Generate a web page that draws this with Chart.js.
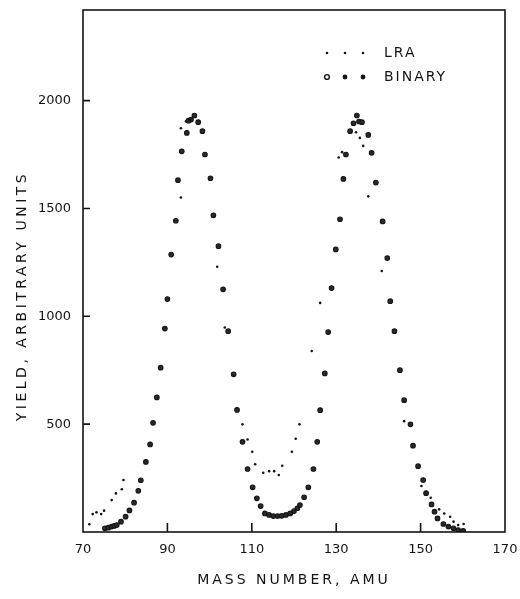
<!DOCTYPE html>
<html>
<head>
    <title>Yield vs mass number</title>
    <script src="https://cdn.jsdelivr.net/npm/chart.js"></script>
    <style>
        html, body { margin: 0; padding: 0; background: #fff; }
    </style>
</head>
<body>
<canvas id="Yield" width="520" height="599"></canvas>
<script>
    // values
    const lra_mass = [71.5, 72.3, 73.2, 74.3, 75.0, 76.8, 77.8, 79.2, 79.6, 93.2, 93.2, 94.4, 95.4,
        101.8, 103.6, 107.8, 109.0, 110.1, 110.8, 112.7, 114.1, 115.3, 116.4, 117.2, 119.5, 120.4,
        121.3, 124.2, 126.2, 130.6, 131.4, 134.7, 135.6, 136.4, 137.6, 140.8, 146.1, 150.2, 152.4,
        154.4, 155.6, 157.0, 157.8, 158.9, 160.2];
    const lra_yield = [36, 83, 91, 83, 99, 148, 179, 198, 241, 1551, 1872, 1904, 1912,
        1230, 948, 499, 429, 372, 314, 275, 282, 282, 264, 307, 372, 432,
        499, 839, 1062, 1736, 1761, 1853, 1827, 1790, 1556, 1210, 514, 213, 159,
        105, 86, 71, 48, 32, 37];

    const binary_mass = [75.2, 76.0, 76.8, 77.4, 78.0, 79.0, 80.1, 81.0, 82.1, 83.1, 83.7, 84.9,
        85.9, 86.6, 87.5, 88.4, 89.4, 90.0, 90.9, 92.0, 92.5, 93.4, 94.6, 95.0, 95.6, 96.4, 97.3,
        98.3, 98.9, 100.2, 100.9, 102.1, 103.2, 104.4, 105.7, 106.5, 107.8, 109.0, 110.2, 111.2,
        112.1, 113.1, 114.1, 115.1, 116.1, 117.1, 118.1, 119.1, 120.0, 120.8, 121.4, 122.4, 123.4,
        124.6, 125.5, 126.2, 127.3, 128.1, 128.9, 129.9, 130.9, 131.7, 132.3, 133.3, 134.1, 134.9,
        135.4, 136.1, 137.6, 138.4, 139.4, 141.0, 142.1, 142.8, 143.8, 145.1, 146.1, 147.6, 148.2,
        149.4, 150.6, 151.3, 152.6, 153.3, 154.0, 155.4, 156.6, 157.8, 158.9, 160.1];
    const binary_yield = [17, 20, 25, 28, 32, 48, 71, 100, 136, 191, 240, 325,
        406, 506, 624, 762, 943, 1080, 1286, 1443, 1631, 1765, 1850, 1907, 1912, 1931, 1900,
        1858, 1750, 1640, 1468, 1325, 1125, 931, 731, 566, 418, 292, 207, 156,
        120, 86, 79, 74, 74, 75, 79, 86, 97, 110, 125, 161, 207,
        292, 418, 565, 735, 927, 1131, 1310, 1450, 1637, 1750, 1858, 1895, 1931,
        1903, 1900, 1841, 1758, 1620, 1440, 1270, 1070, 931, 750, 611, 499, 400,
        305, 241, 180, 128, 94, 63, 37, 25, 17, 9, 5];

    const x_ticks = [70, 90, 110, 130, 150, 170];
    const y_ticks = [500, 1000, 1500, 2000];

    const INK = '#141414';
    const FONT = '"DejaVu Sans", sans-serif';

    function to_points(xs, ys) {
        return xs.map((x, i) => ({x: x, y: ys[i]}));
    }

    // box, inward ticks, legend and axis titles like the old plot
    const frame_plugin = {
        id: 'frame',
        afterDatasetsDraw(chart) {
            const ctx = chart.ctx;
            const a = chart.chartArea;
            const xs = chart.scales.x;
            const ys = chart.scales.y;
            ctx.save();
            ctx.strokeStyle = INK;
            ctx.lineWidth = 1.6;
            ctx.strokeRect(a.left, a.top, a.right - a.left, a.bottom - a.top);

            ctx.beginPath();
            y_ticks.forEach(v => {
                const py = ys.getPixelForValue(v);
                ctx.moveTo(a.left, py);
                ctx.lineTo(a.left + 7, py);
            });
            x_ticks.slice(1, -1).forEach(v => {
                const px = xs.getPixelForValue(v);
                ctx.moveTo(px, a.bottom);
                ctx.lineTo(px, a.bottom - 9);
            });
            ctx.stroke();

            // legend
            const dot_x = [327, 345, 363];
            ctx.fillStyle = INK;
            dot_x.forEach(px => {
                ctx.beginPath();
                ctx.arc(px, 53, 1.3, 0, Math.PI * 2);
                ctx.fill();
            });
            dot_x.forEach((px, i) => {
                ctx.beginPath();
                ctx.arc(px, 77, 2.4, 0, Math.PI * 2);
                if (i === 0) {
                    ctx.lineWidth = 1.4;
                    ctx.stroke();
                } else {
                    ctx.fill();
                }
            });
            ctx.font = '14px ' + FONT;
            ctx.letterSpacing = '2px';
            ctx.textAlign = 'left';
            ctx.textBaseline = 'middle';
            ctx.fillText('LRA', 384, 53);
            ctx.fillText('BINARY', 384, 77);

            // axis titles
            ctx.textAlign = 'center';
            ctx.letterSpacing = '3px';
            ctx.fillText('MASS NUMBER, AMU', (a.left + a.right) / 2, 580);
            ctx.letterSpacing = '3.5px';
            ctx.translate(22, 296);
            ctx.rotate(-Math.PI / 2);
            ctx.fillText('YIELD, ARBITRARY UNITS', 0, 0);
            ctx.restore();
        }
    };

    const canvas = document.getElementById('Yield');
    const yield_chart = new Chart(canvas, {
        type: 'scatter',
        data: {
            datasets: [{
                label: 'LRA',
                data: to_points(lra_mass, lra_yield),
                pointRadius: 1.3,
                pointBackgroundColor: INK,
                pointBorderWidth: 0,
            }, {
                label: 'BINARY',
                data: to_points(binary_mass, binary_yield),
                pointRadius: 2.3,
                pointBackgroundColor: '#2a2a2a',
                pointBorderColor: INK,
                pointBorderWidth: 1.1,
            }]
        },
        options: {
            responsive: false,
            animation: false,
            devicePixelRatio: 1,
            layout: {autoPadding: false, padding: {top: 10, right: 15, left: 0, bottom: 0}},
            plugins: {
                legend: {display: false},
                tooltip: {enabled: false},
            },
            scales: {
                x: {
                    type: 'linear',
                    min: 70,
                    max: 170,
                    afterBuildTicks: s => { s.ticks = x_ticks.map(v => ({value: v})); },
                    afterFit: s => { s.height = 67; s.paddingLeft = 0; s.paddingRight = 0; },
                    grid: {display: false, drawTicks: false},
                    border: {display: false},
                    ticks: {color: INK, padding: 10, font: {family: FONT, size: 13}, callback: v => String(v)},
                },
                y: {
                    type: 'linear',
                    min: 0,
                    max: 2420,
                    afterBuildTicks: s => { s.ticks = y_ticks.map(v => ({value: v})); },
                    afterFit: s => { s.width = 83; s.paddingTop = 0; s.paddingBottom = 0; },
                    grid: {display: false, drawTicks: false},
                    border: {display: false},
                    ticks: {color: INK, padding: 12, font: {family: FONT, size: 13}, callback: v => String(v)},
                }
            }
        },
        plugins: [frame_plugin]
    });
</script>
</body>
</html>
